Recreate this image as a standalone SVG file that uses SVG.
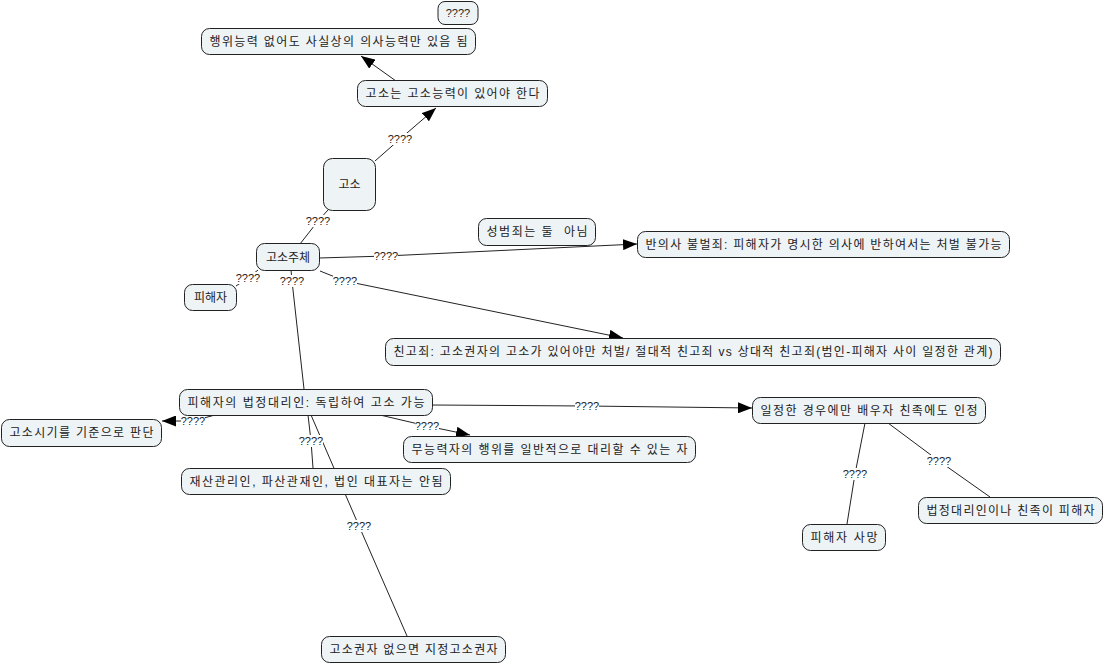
<svg xmlns="http://www.w3.org/2000/svg" width="1104" height="665" viewBox="0 0 1104 665">
<style>
.n{fill:#eef3f6;stroke:#222;stroke-width:1}
.t{font-family:"Liberation Sans","Noto Sans CJK KR",sans-serif;font-size:12px;fill:#222;text-anchor:middle}
.c{fill:none;stroke:#222;stroke-width:1}
.lb{fill:#fff}
.l{font-family:"Liberation Sans",sans-serif;font-size:11px;fill:#222;text-anchor:middle}
</style>
<defs>
<marker id="a" markerUnits="userSpaceOnUse" markerWidth="15" markerHeight="11" refX="14" refY="5.5" orient="auto">
<path d="M0,0 L14,5.5 L0,11 Z" fill="#000"/>
</marker>
</defs>
<rect width="1104" height="665" fill="#fff"/>
<g id="connectors">
<polyline class="c" points="396,81 361,56" marker-end="url(#a)"/>
<polyline class="c" points="375,161 400,139 436,108" marker-end="url(#a)"/>
<polyline class="c" points="300,244 318,221 328,210"/>
<polyline class="c" points="319,258 386,256 637,244" marker-end="url(#a)"/>
<polyline class="c" points="258,270 248,278 236,286"/>
<polyline class="c" points="320,271 345,281 623,338" marker-end="url(#a)"/>
<polyline class="c" points="291,270 292,281 304,389"/>
<polyline class="c" points="215,415 193,421 162,421" marker-end="url(#a)"/>
<polyline class="c" points="380,415 427,426 470,435" marker-end="url(#a)"/>
<polyline class="c" points="432,405 587,406 752,408" marker-end="url(#a)"/>
<polyline class="c" points="308,415 311,441 313,468"/>
<polyline class="c" points="311,415 359,526 407,636"/>
<polyline class="c" points="865,423 855,474 847,524"/>
<polyline class="c" points="888,423 939,461 990,497"/>
<g id="labels">
<rect class="lb" x="388" y="133" width="24" height="12"/><text class="l" x="400" y="143">????</text>
<rect class="lb" x="306" y="215" width="24" height="12"/><text class="l" x="318" y="225">????</text>
<rect class="lb" x="374" y="250" width="24" height="12"/><text class="l" x="386" y="260">????</text>
<rect class="lb" x="236" y="272" width="24" height="12"/><text class="l" x="248" y="282">????</text>
<rect class="lb" x="333" y="275" width="24" height="12"/><text class="l" x="345" y="285">????</text>
<rect class="lb" x="280" y="275" width="24" height="12"/><text class="l" x="292" y="285">????</text>
<rect class="lb" x="181" y="416" width="24" height="10"/><text class="l" x="193" y="425">????</text>
<rect class="lb" x="415" y="420" width="24" height="12"/><text class="l" x="427" y="430">????</text>
<rect class="lb" x="575" y="400" width="24" height="12"/><text class="l" x="587" y="410">????</text>
<rect class="lb" x="299" y="435" width="24" height="12"/><text class="l" x="311" y="445">????</text>
<rect class="lb" x="347" y="520" width="24" height="12"/><text class="l" x="359" y="530">????</text>
<rect class="lb" x="843" y="468" width="24" height="12"/><text class="l" x="855" y="478">????</text>
<rect class="lb" x="927" y="455" width="24" height="12"/><text class="l" x="939" y="465">????</text>
</g>
</g>
<g id="nq"><rect class="n" x="438" y="1.5" width="40" height="23" rx="7"/><text class="l" x="458" y="17">????</text></g>
<g id="n1"><rect class="n" x="201.5" y="28.5" width="274" height="26" rx="8"/><text class="t" x="338.5" y="46" textLength="258" lengthAdjust="spacing">행위능력 없어도 사실상의 의사능력만 있음 됨</text></g>
<g id="n2"><rect class="n" x="357.5" y="80.5" width="190" height="26" rx="8"/><text class="t" x="452.5" y="98" textLength="174" lengthAdjust="spacing">고소는 고소능력이 있어야 한다</text></g>
<g id="n3"><rect class="n" x="323.5" y="158.5" width="52" height="52" rx="9"/><text class="t" x="349.5" y="189">고소</text></g>
<g id="n4"><rect class="n" x="256.5" y="243.5" width="63" height="27" rx="8"/><text class="t" x="288" y="261.5">고소주체</text></g>
<g id="n5"><rect class="n" x="478.5" y="218.5" width="117" height="27" rx="8"/><text class="t" x="537" y="236" textLength="101" lengthAdjust="spacing" xml:space="preserve" style="white-space:pre">성범죄는 둘  아님</text></g>
<g id="n6"><rect class="n" x="637.5" y="231.5" width="372" height="26" rx="8"/><text class="t" x="823.5" y="249" textLength="356" lengthAdjust="spacing">반의사 불벌죄: 피해자가 명시한 의사에 반하여서는 처벌 불가능</text></g>
<g id="n7"><rect class="n" x="184.5" y="284.5" width="52" height="26" rx="8"/><text class="t" x="210.5" y="302">피해자</text></g>
<g id="n8"><rect class="n" x="385.5" y="338.5" width="615" height="27" rx="8"/><text class="t" x="693" y="356" textLength="599" lengthAdjust="spacing">친고죄: 고소권자의 고소가 있어야만 처벌/ 절대적 친고죄 vs 상대적 친고죄(범인-피해자 사이 일정한 관계)</text></g>
<g id="n9"><rect class="n" x="179.5" y="389.5" width="253" height="26" rx="8"/><text class="t" x="306" y="407" textLength="237" lengthAdjust="spacing">피해자의 법정대리인: 독립하여 고소 가능</text></g>
<g id="n10"><rect class="n" x="1.5" y="419.5" width="160" height="27" rx="8"/><text class="t" x="81.5" y="437" textLength="144" lengthAdjust="spacing">고소시기를 기준으로 판단</text></g>
<g id="n11"><rect class="n" x="403.5" y="436.5" width="292" height="26" rx="8"/><text class="t" x="549.5" y="454" textLength="276" lengthAdjust="spacing">무능력자의 행위를 일반적으로 대리할 수 있는 자</text></g>
<g id="n12"><rect class="n" x="181.5" y="468.5" width="269" height="26" rx="8"/><text class="t" x="316" y="486" textLength="253" lengthAdjust="spacing">재산관리인, 파산관재인, 법인 대표자는 안됨</text></g>
<g id="n13"><rect class="n" x="752.5" y="397.5" width="233" height="26" rx="8"/><text class="t" x="869" y="415" textLength="217" lengthAdjust="spacing">일정한 경우에만 배우자 친족에도 인정</text></g>
<g id="n14"><rect class="n" x="802.5" y="524.5" width="83" height="26" rx="8"/><text class="t" x="844" y="542" textLength="67" lengthAdjust="spacing">피해자 사망</text></g>
<g id="n15"><rect class="n" x="918.5" y="497.5" width="184" height="26" rx="8"/><text class="t" x="1010.5" y="515" textLength="168" lengthAdjust="spacing">법정대리인이나 친족이 피해자</text></g>
<g id="n16"><rect class="n" x="321.5" y="636.5" width="184" height="26" rx="8"/><text class="t" x="413.5" y="654" textLength="168" lengthAdjust="spacing">고소권자 없으면 지정고소권자</text></g>
</svg>
